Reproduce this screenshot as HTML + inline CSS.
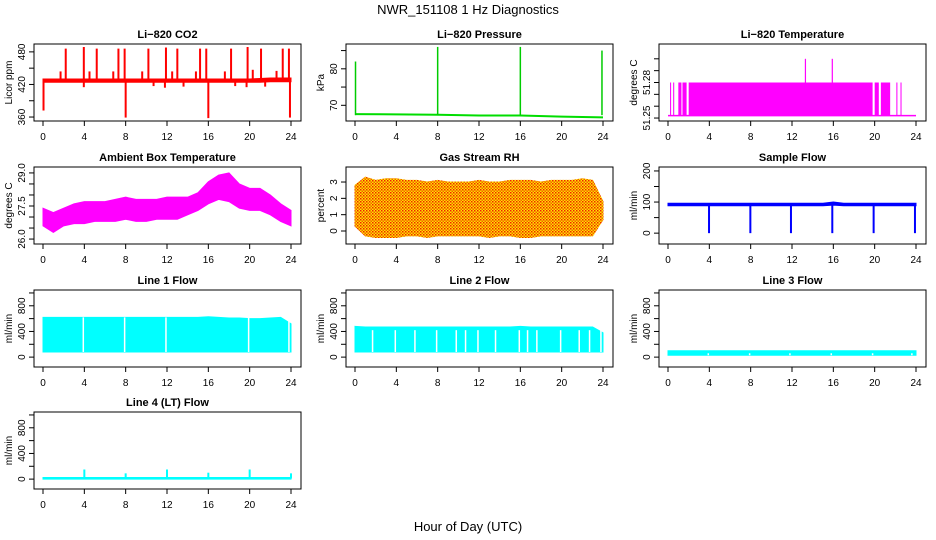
<!DOCTYPE html>
<html><head><meta charset="utf-8"><style>
html,body{margin:0;padding:0;background:#fff;}
svg{display:block;font-family:"Liberation Sans",sans-serif;}
</style></head><body>
<svg id="fig" width="936" height="540" viewBox="0 0 936 540">
<defs>
<pattern id="rhpat" width="3" height="3" patternUnits="userSpaceOnUse">
<rect width="3" height="3" fill="#ffe600"/><rect width="1.5" height="1.5" fill="#f02000"/><rect x="1.5" y="1.5" width="1.5" height="1.5" fill="#f06000"/>
</pattern>
</defs>
<text x="468" y="14" text-anchor="middle" font-size="13">NWR_151108  1 Hz Diagnostics</text>
<text x="468" y="531" text-anchor="middle" font-size="13">Hour of Day (UTC)</text>
</svg>
<script>
// ---- data (hours 0..24) ----
const hours = [0,1,2,3,4,5,6,7,8,9,10,11,12,13,14,15,16,17,18,19,20,21,22,23,24];
const xTicks = [0,4,8,12,16,20,24];

const co2Low  = [424,424,424,424,424,424,424,424,424,424,424,424,424,424,424,424,424,424,424,424,424,424,425,425,425];
const co2High = [430,430,430,430,430,430,430,430,430,430,430,430,430,430,430,430,430,430,430,430,430,431,432,432,432];
const co2SpikeT = [2.2,3.95,5.2,7.3,7.9,10.2,11.9,13.0,15.2,15.8,18.2,19.8,21.1,23.2,23.8,1.7,4.5,6.8,9.6,12.5,14.8,17.6,20.3,22.6, 0.05,8.0,16.0,23.9,3.95,10.7,11.8,13.6,18.6,19.7,21.5];
const co2SpikeV = [486,489,486,486,486,486,488,486,486,486,486,489,486,486,486,444,444,444,444,444,444,444,447,445, 372,359,358,359,415,417,414,416,417,415,416];

const presBaseT = [0,4,8,12,16,20,24];
const presBaseV = [67.6,67.5,67.4,67.2,67.2,66.9,66.7];
const presSpikeT = [0.05,8.0,16.0,23.9];
const presSpikeV = [82,86,86,85];

const tempBase = 51.252;
const tempTop = 51.28;
const tempBlockStart = [0.2,0.5,1.0,1.4,2.0,20.0,20.6,22.1,22.5];
const tempBlockEnd   = [0.3,0.6,1.3,1.8,19.8,20.4,21.5,22.2,22.6];
const tempSpikeT = [13.3,15.9];
const tempSpikeV = [51.30,51.30];

const ambLow  = [26.6,26.3,26.6,26.7,26.7,26.8,26.8,26.8,26.9,26.8,26.8,26.9,26.9,26.9,27.1,27.3,27.6,27.8,27.7,27.4,27.3,27.3,27.1,26.8,26.6];
const ambHigh = [27.4,27.2,27.4,27.6,27.7,27.7,27.7,27.8,27.9,27.8,27.8,27.8,27.9,27.9,27.9,28.1,28.6,28.9,29.0,28.5,28.3,28.3,28.0,27.6,27.3];

const rhLow  = [0.3,-0.3,-0.4,-0.4,-0.4,-0.3,-0.3,-0.4,-0.3,-0.3,-0.3,-0.3,-0.3,-0.4,-0.3,-0.3,-0.4,-0.4,-0.3,-0.3,-0.3,-0.3,-0.3,-0.3,0.7];
const rhHigh = [2.8,3.3,3.1,3.2,3.2,3.1,3.1,3.0,3.1,3.0,3.0,3.0,3.1,3.0,3.0,3.1,3.1,3.1,3.0,3.1,3.1,3.1,3.2,3.1,1.8];

const sfLow  = [88,88,88,88,88,88,88,88,88,88,88,88,88,88,88,88,90,88,88,88,88,88,88,88,88];
const sfHigh = [96,96,96,96,96,96,96,96,96,96,96,96,96,96,96,96,100,96,96,96,96,96,96,96,96];
const sfDipT = [3.97,7.97,11.9,15.9,19.9,23.9];
const sfDipV = [0,0,0,0,0,0];

const l1Low  = [80,80,80,80,80,80,80,80,80,80,80,80,80,80,80,80,80,80,80,80,80,80,80,80,80];
const l1High = [620,620,620,620,620,620,620,620,620,620,620,620,620,620,620,620,630,620,610,610,600,600,610,620,520];
const l1Gap = [3.9,7.9,11.9,19.9,23.8];

const l2Low  = [80,80,80,80,80,80,80,80,80,80,80,80,80,80,80,80,80,80,80,80,80,80,80,80,80];
const l2High = [480,470,470,470,470,470,470,470,470,470,470,470,470,470,470,470,480,470,470,470,470,470,470,470,380];
const l2Gap = [1.7,3.9,5.8,7.9,9.8,10.7,11.9,13.6,15.9,16.7,17.6,19.9,21.7,22.7,23.8];

const l3Low  = [30,30,30,30,30,30,30,30,30,30,30,30,30,30,30,30,30,30,30,30,30,30,30,30,30];
const l3High = [100,100,100,100,100,100,100,100,100,100,100,100,100,100,100,100,100,100,100,100,100,100,100,100,100];
const l3Gap = [3.9,7.9,11.8,15.8,19.8,23.6];

const l4Low  = [0,0,0,0,0,0,0,0,0,0,0,0,0,0,0,0,0,0,0,0,0,0,0,0,0];
const l4High = [25,25,25,25,25,25,25,25,25,25,25,25,25,25,25,25,25,25,25,25,25,25,25,25,25];
const l4SpikeT = [4.0,8.0,12.0,16.0,20.0,24.0];
const l4SpikeV = [150,90,150,100,150,90];

// ---- layout ----
const NS = 'http://www.w3.org/2000/svg';
const svg = document.getElementById('fig');
const colLeft = [34,346,659];
const rowTop = [44,167,290,412];
const rowBot = [121,244,367,489];
const W = 267;

function mk(tag, attrs, parent){ const e=document.createElementNS(NS,tag); for(const k in attrs) e.setAttribute(k,attrs[k]); (parent||svg).appendChild(e); return e; }

function panel(cfg){
  const L=colLeft[cfg.col], T=rowTop[cfg.row], B=rowBot[cfg.row];
  const g=mk('g',{});
  
  
  const xs=t=>L+9+t*(248/24);
  const ys=v=>B-(v-cfg.ymin)/(cfg.ymax-cfg.ymin)*(B-T);
  const clipId='clip'+cfg.name;
  const cp=mk('clipPath',{id:clipId},g); mk('rect',{x:L,y:T,width:W,height:B-T},cp);
  const plot=mk('g',{'clip-path':'url(#'+clipId+')'},g);
  
  
  cfg.draw(plot,xs,ys);
  // box
  const box=mk('rect',{x:L,y:T,width:W,height:B-T,fill:'none',stroke:'#000','stroke-width':1},g);
  
  
  // title
  const tt=mk('text',{x:L+W/2,y:T-6,'text-anchor':'middle','font-size':11,'font-weight':'bold'},g);
  tt.textContent=cfg.title;
  
  
  // x axis
  mk('line',{x1:xs(0),x2:xs(24),y1:B,y2:B,stroke:'#000'},g);
  xTicks.forEach(t=>{
    mk('line',{x1:xs(t),x2:xs(t),y1:B,y2:B+5,stroke:'#000'},g);
    const tx=mk('text',{x:xs(t),y:B+19,'text-anchor':'middle','font-size':10},g);
    tx.textContent=t;
    
    
  });
  // y axis
  cfg.yt.forEach(v=>{ mk('line',{x1:L-5,x2:L,y1:ys(v),y2:ys(v),stroke:'#000'},g); });
  cfg.yl.forEach(v=>{
    const y=ys(v);
    const tx=mk('text',{x:L-9,y:y,'text-anchor':'middle','font-size':10,transform:`rotate(-90 ${L-9} ${y})`},g);
    tx.textContent=cfg.fmt?cfg.fmt(v):v;
    
    
  });
  const yl=mk('text',{x:L-22,y:(T+B)/2,'text-anchor':'middle','font-size':10,transform:`rotate(-90 ${L-22} ${(T+B)/2})`},g);
  yl.textContent=cfg.ylab;
  
  
}

function band(p,xs,ys,lo,hi,fill){
  let d='M'+hours.map((h,i)=>xs(h)+','+ys(hi[i])).join('L');
  for(let i=hours.length-1;i>=0;i--) d+='L'+xs(hours[i])+','+ys(lo[i]);
  const e=mk('path',{d:d+'Z',fill:fill,stroke:fill,'stroke-width':1},p);
  
  
}
function spikes(p,xs,ys,T,V,base,col,w){
  T.forEach((t,i)=>{
    const e=mk('line',{x1:xs(t),x2:xs(t),y1:ys(base),y2:ys(V[i]),stroke:col,'stroke-width':w||1.5},p);
    
    
  });
}
function gaps(p,xs,ys,G,lo,hi){
  G.forEach(t=>{
    const e=mk('line',{x1:xs(t),x2:xs(t),y1:ys(hi),y2:ys(lo),stroke:'#fff','stroke-width':1.5},p);
    
    
  });
}

panel({name:'co2-panel',col:0,row:0,title:'Li\u2212820 CO2',ylab:'Licor ppm',ymin:352.7,ymax:494.5,
  yt:[360,390,420,450,480],yl:[360,420,480],
  draw:(p,xs,ys)=>{ band(p,xs,ys,co2Low,co2High,'#ff0000'); spikes(p,xs,ys,co2SpikeT,co2SpikeV,427,'#ff0000',2); }});
panel({name:'pressure-panel',col:1,row:0,title:'Li\u2212820 Pressure',ylab:'kPa',ymin:65.7,ymax:86.8,
  yt:[70,75,80,85],yl:[70,80],
  draw:(p,xs,ys)=>{
    const d='M'+presBaseT.map((t,i)=>xs(t)+','+ys(presBaseV[i])).join('L');
    const e=mk('path',{d:d,fill:'none',stroke:'#00dd00','stroke-width':2},p);
     
    spikes(p,xs,ys,presSpikeT,presSpikeV,67.3,'#00cc00',1.5);
  }});
panel({name:'licor-temp-panel',col:2,row:0,title:'Li\u2212820 Temperature',ylab:'degrees C',ymin:51.2475,ymax:51.3125,
  yt:[51.25,51.26,51.27,51.28,51.29,51.30],yl:[51.25,51.28],fmt:v=>v.toFixed(2),
  draw:(p,xs,ys)=>{
    const e=mk('line',{x1:xs(0),x2:xs(24),y1:ys(tempBase),y2:ys(tempBase),stroke:'#ff00ff','stroke-width':1.5},p);
     
    tempBlockStart.forEach((s,i)=>{
      const r=mk('rect',{x:xs(s),y:ys(tempTop),width:Math.max(1,xs(tempBlockEnd[i])-xs(s)),height:ys(tempBase)-ys(tempTop),fill:'#ff00ff'},p);
       
    });
    spikes(p,xs,ys,tempSpikeT,tempSpikeV,tempTop,'#ff00ff',1.2);
  }});
panel({name:'ambient-temp-panel',col:0,row:1,title:'Ambient Box Temperature',ylab:'degrees C',ymin:25.776,ymax:29.269,
  yt:[26,26.5,27,27.5,28,28.5,29],yl:[26,27.5,29],fmt:v=>v.toFixed(1),
  draw:(p,xs,ys)=>band(p,xs,ys,ambLow,ambHigh,'#ff00ff')});
panel({name:'rh-panel',col:1,row:1,title:'Gas Stream RH',ylab:'percent',ymin:-0.796,ymax:3.92,
  yt:[0,1,2,3],yl:[0,1,2,3],
  draw:(p,xs,ys)=>band(p,xs,ys,rhLow,rhHigh,'url(#rhpat)')});
panel({name:'sample-flow-panel',col:2,row:1,title:'Sample Flow',ylab:'ml/min',ymin:-34.9,ymax:212.7,
  yt:[0,50,100,150,200],yl:[0,100,200],
  draw:(p,xs,ys)=>{ band(p,xs,ys,sfLow,sfHigh,'#0000ff'); spikes(p,xs,ys,sfDipT,sfDipV,90,'#0000ff',2); }});
const flowTicks=[0,200,400,600,800,1000], flowLabels=[0,400,800];
panel({name:'line1-flow-panel',col:0,row:2,title:'Line 1 Flow',ylab:'ml/min',ymin:-154,ymax:1046,yt:flowTicks,yl:flowLabels,
  draw:(p,xs,ys)=>{ band(p,xs,ys,l1Low,l1High,'#00ffff'); gaps(p,xs,ys,l1Gap,80,620); }});
panel({name:'line2-flow-panel',col:1,row:2,title:'Line 2 Flow',ylab:'ml/min',ymin:-154,ymax:1046,yt:flowTicks,yl:flowLabels,
  draw:(p,xs,ys)=>{ band(p,xs,ys,l2Low,l2High,'#00ffff'); gaps(p,xs,ys,l2Gap,80,420); }});
panel({name:'line3-flow-panel',col:2,row:2,title:'Line 3 Flow',ylab:'ml/min',ymin:-154,ymax:1046,yt:flowTicks,yl:flowLabels,
  draw:(p,xs,ys)=>{ band(p,xs,ys,l3Low,l3High,'#00ffff'); gaps(p,xs,ys,l3Gap,30,60); }});
panel({name:'line4-flow-panel',col:0,row:3,title:'Line 4 (LT) Flow',ylab:'ml/min',ymin:-154,ymax:1046,yt:flowTicks,yl:flowLabels,
  draw:(p,xs,ys)=>{ band(p,xs,ys,l4Low,l4High,'#00ffff'); spikes(p,xs,ys,l4SpikeT,l4SpikeV,10,'#00ffff',2); }});
</script>
</body></html>
